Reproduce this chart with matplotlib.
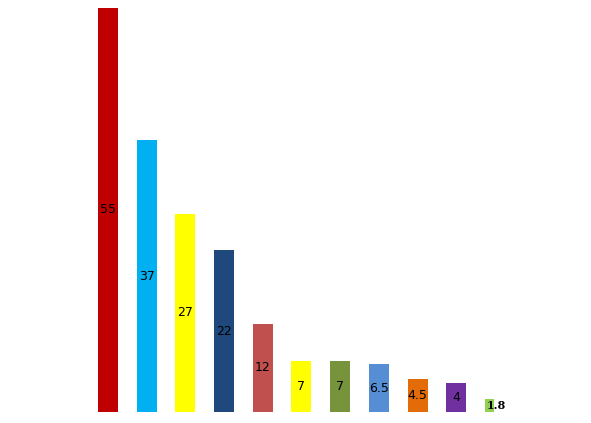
import matplotlib
matplotlib.use("Agg")
import matplotlib.pyplot as plt
import numpy as np

values = [55, 37, 27, 22, 12, 7, 7, 6.5, 4.5, 4, 1.8]
labels = ["55", "37", "27", "22", "12", "7", "7", "6.5", "4.5", "4", "1.8"]
colors = ["#C00000", "#00B0F0", "#FFFF00", "#1F497D", "#C0504D", "#FFFF00",
          "#77933C", "#558ED5", "#E36C09", "#7030A0", "#92D050"]

fig = plt.figure(figsize=(5.91, 4.23), dpi=100)
ax = fig.add_axes([0, 0, 1, 1])

x = np.arange(len(values))
# the last bar is drawn narrower than the rest
widths = np.full(len(values), 0.517)
widths[-1] = 0.24
ax.bar(x - 0.2585, values, width=widths, color=colors, align="edge")

for xi, v, lab in zip(x, values, labels):
    if lab == "1.8":
        # small label in a bold serif face
        ax.text(xi + 0.03, v / 2, lab, ha="center", va="center", fontsize=8,
                family="DejaVu Serif", fontweight="bold")
    else:
        ax.text(xi, v / 2, lab, ha="center", va="center", fontsize=9)

ax.set_xlim(-2.79, -2.79 + 591 / 38.7)
ax.set_ylim(-1.5, -1.5 + 57.59)
ax.axis("off")

fig.savefig("out.png", dpi=100)
